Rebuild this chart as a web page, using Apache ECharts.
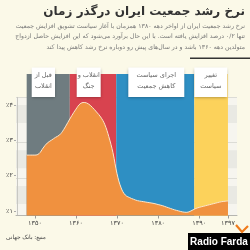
<!DOCTYPE html>
<html><head><meta charset="utf-8">
<script src="https://cdn.jsdelivr.net/npm/echarts@6/dist/echarts.min.js"></script>
<style>html,body{margin:0;padding:0;background:#fbf9e8;}#c{width:250px;height:250px;}</style>
</head><body><div id="c"></div><script>
const years = [1348,1349,1350,1351,1352,1353,1354,1355,1356,1357,1358,1359,1360,1361,1362,1363,1364,1365,1366,1367,1368,1369,1370,1371,1372,1373,1374,1375,1376,1377,1378,1379,1380,1381,1382,1383,1384,1385,1386,1387,1388,1389,1390,1391,1392,1393,1394,1395,1396,1397];
const rates = [2.58,2.58,2.58,2.62,2.78,2.92,3.0,3.08,3.15,3.3,3.5,3.7,3.88,4.03,4.07,4.03,3.93,3.8,3.66,3.45,3.1,2.65,2.05,1.65,1.45,1.38,1.33,1.29,1.27,1.25,1.23,1.21,1.18,1.15,1.11,1.07,1.03,1.0,0.97,0.96,1.0,1.06,1.1,1.13,1.16,1.19,1.22,1.25,1.27,1.28];
const xTicks = [1350,1360,1370,1380,1390,1397];
const yTicks = [1,2,3,4];
const periods = [[1348,1358.5],[1358.5,1369.8],[1369.8,1388.8],[1388.8,1397]];
const periodColors = ['#6f7c80','#d8434f','#2e8fc3','#fcd25b'];
const periodLabels = [['قبل از','انقلاب'],['انقلاب و','جنگ'],['اجرای سیاست','کاهش جمعیت'],['تغییر','سیاست']];
const stripes = [[3.49,4.0],[2.21,2.72],[1.195,1.705]];
const gridLines = [4.225,2.96,1.923];
const title = 'نرخ رشد جمعیت ایران درگذر زمان';
const subtitle = ['نرخ رشد جمعیت ایران از اواخر دهه ۱۳۸۰ همزمان با آغاز سیاست تشویق افزایش جمعیت','تنها ۰/۲ درصد افزایش یافته است. با این حال برآورد می‌شود که این افزایش حاصل ازدواج','متولدین دهه ۱۳۶۰ باشد و در سال‌های پیش رو دوباره نرخ رشد کاهش پیدا کند'];
const source = 'منبع: بانک جهانی';

const fa = s => String(s).replace(/\d/g, d => '۰۱۲۳۴۵۶۷۸۹'[d]);
const FONT = 'DejaVu Sans';
const chart = echarts.init(document.getElementById('c'));

const boxes = [[31.7,67.5,23.3,29.5],[76.7,67.5,24,29.5],[128.3,67.5,56,29.5],[194.3,67.5,33,29.5]];
const graphic = [];
boxes.forEach((b,i)=>{
  graphic.push({type:'rect',shape:{x:b[0],y:b[1],width:b[2],height:b[3]},style:{fill:'#ffffff',shadowBlur:3,shadowColor:'rgba(0,0,0,0.35)',shadowOffsetY:1},z:10});
  periodLabels[i].forEach((t,j)=>{
    graphic.push({type:'text',x:b[0]+b[2]/2,y:75.5+j*10.5,style:{text:t,fill:'#666',font:'6.5px "'+FONT+'"',textAlign:'center',textVerticalAlign:'middle'},z:11});
  });
});
graphic.push({type:'text',x:245,y:12,style:{text:title,fill:'#333',font:'bold 12px "'+FONT+'"',textAlign:'right',textVerticalAlign:'middle'}});
subtitle.forEach((t,i)=>graphic.push({type:'text',x:245,y:26+i*10.7,style:{text:t,fill:'#777',font:'6.2px "'+FONT+'"',textAlign:'right',textVerticalAlign:'middle'}}));
graphic.push({type:'rect',shape:{x:190,y:57.5,width:60,height:1.5},style:{fill:'#333'}});
graphic.push({type:'text',x:6,y:237,style:{text:source,fill:'#444',font:'5.8px "'+FONT+'"',textAlign:'left',textVerticalAlign:'middle'}});
graphic.push({type:'rect',shape:{x:188,y:233,width:62,height:17},style:{fill:'#000'}});
graphic.push({type:'text',x:219,y:242,style:{text:'Radio Farda',fill:'#fff',font:'bold 10px "Liberation Sans"',textAlign:'center',textVerticalAlign:'middle'}});
graphic.push({type:'polyline',shape:{points:[[236,225],[242,232],[248,226]]},style:{stroke:'#f07a1a',lineWidth:2.2,fill:null}});

chart.setOption({
  backgroundColor:'#fbf9e8',
  animation:false,
  grid:{left:16,right:13,top:74,bottom:34.5},
  xAxis:{type:'value',min:1345.4,max:1399.2,
    axisLine:{show:true,lineStyle:{color:'#b5b5b0',width:1}},
    axisTick:{show:true,customValues:xTicks,length:3,lineStyle:{color:'#999'}},
    axisLabel:{customValues:xTicks,formatter:v=>fa(v),color:'#444',fontSize:6.5,fontFamily:FONT,margin:4},
    splitLine:{show:false}},
  yAxis:{type:'value',min:0.87,max:4.875,
    axisLine:{show:false},
    axisTick:{show:true,customValues:yTicks,length:2,lineStyle:{color:'#aaa'}},
    axisLabel:{customValues:yTicks,formatter:v=>'٪'+fa(v),color:'#444',fontSize:6.5,fontFamily:FONT,margin:3},
    splitLine:{show:false}},
  graphic:graphic,
  series:[
    {type:'custom',z:0,silent:true,data:[[0]],renderItem:(params,api)=>{
      const cs=params.coordSys; const ch=[];
      const yTop=api.coord([1350,gridLines[0]])[1], yBot=cs.y+cs.height;
      ch.push({type:'rect',shape:{x:cs.x,y:yTop,width:cs.width,height:yBot-yTop},style:{fill:'#f6f5ef'}});
      stripes.forEach(s=>{const a=api.coord([1350,s[1]])[1],b=api.coord([1350,s[0]])[1];
        ch.push({type:'rect',shape:{x:cs.x,y:a,width:cs.width,height:b-a},style:{fill:'#e9e9e3'}});});
      gridLines.forEach(g=>{const y=Math.round(api.coord([1350,g])[1])+0.5;
        ch.push({type:'line',shape:{x1:cs.x,y1:y,x2:cs.x+cs.width,y2:y},style:{stroke:'#dcdcd6',lineWidth:1}});});
      ch.push({type:'line',shape:{x1:cs.x+1.5,y1:yTop,x2:cs.x+1.5,y2:yBot},style:{stroke:'#c8c8c2',lineWidth:1}});
      return {type:'group',children:ch};
    }},
    {type:'custom',z:1,silent:true,data:periods.map((p,i)=>[p[0],p[1],i]),renderItem:(params,api)=>{
      const cs=params.coordSys;
      const x1=api.coord([api.value(0),1])[0], x2=api.coord([api.value(1),1])[0];
      return {type:'rect',shape:{x:x1,y:cs.y,width:x2-x1,height:cs.height},style:{fill:periodColors[api.value(2)]}};
    }},
    {type:'line',z:2,silent:true,smooth:0.4,showSymbol:false,
      data:years.map((y,i)=>[y,rates[i]]),
      lineStyle:{color:'#fbe6cc',width:1},
      areaStyle:{color:'#f0913f',opacity:1,origin:'start'}}
  ]
});
</script></body></html>
